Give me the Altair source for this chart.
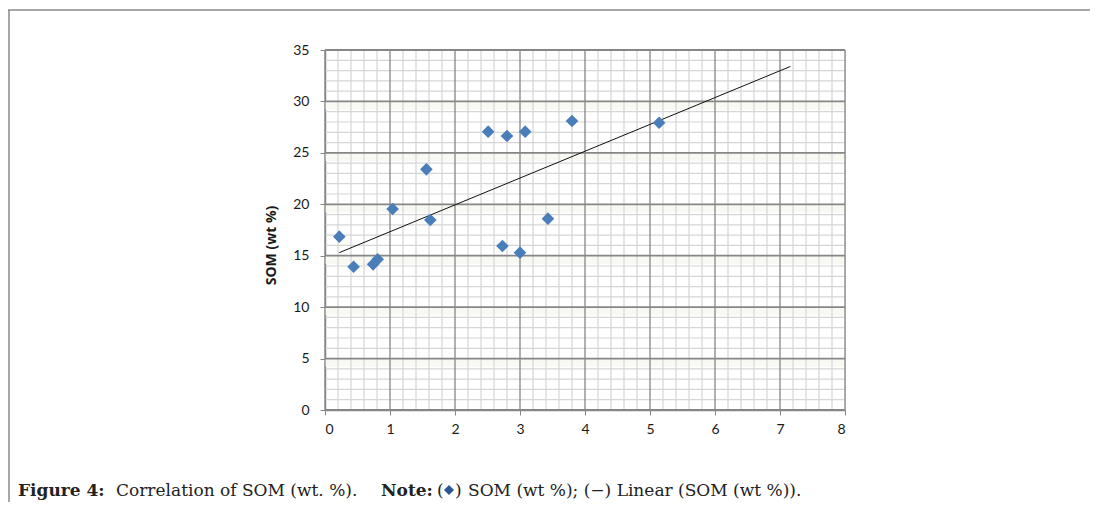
import altair as alt
import pandas as pd

# ---- data ----
clay = [0.22, 0.44, 0.74, 0.81, 1.04, 1.56, 1.62, 2.51, 2.73, 2.80, 3.00, 3.08, 3.43, 3.80, 5.14]
som = [16.85, 13.93, 14.16, 14.65, 19.54, 23.4, 18.47, 27.06, 15.94, 26.64, 15.3, 27.06, 18.6, 28.1, 27.93]
trend_x = [0.22, 7.16]
trend_y = [15.3, 33.4]
x_major = [0, 1, 2, 3, 4, 5, 6, 7, 8]
y_major = [0, 5, 10, 15, 20, 25, 30, 35]
x_minor = [round(i * 0.2, 1) for i in range(41) if i % 5]
y_minor = [i for i in range(36) if i % 5]
cap_fig = "Figure 4:"
cap_text1 = "Correlation of SOM (wt. %)."
cap_note = "Note:"
cap_open = "("
cap_close = ")"
cap_text2 = "SOM (wt %); (\u2212) Linear (SOM (wt %))."

pts = pd.DataFrame({"x": clay, "y": som})
trend = pd.DataFrame({"x": trend_x, "y": trend_y})
bands = pd.DataFrame({"v": [v for v in y_major if 0 < v < 35]})
bands["v2"] = bands["v"] - 0.8

MAJOR = "#868686"
MINOR = "#d6d6d6"
AXFONT = "Lato"

xscale = alt.Scale(domain=[0, 8], nice=False)
yscale = alt.Scale(domain=[0, 35], nice=False)

xaxis = alt.Axis(values=x_major, title=None, grid=False, domainColor=MAJOR, domainWidth=1.5,
                 tickColor=MAJOR, tickSize=5, labelPadding=7, labelFont=AXFONT,
                 labelFontSize=14, labelColor="#1a1a1a")
yaxis = alt.Axis(values=y_major, title="SOM (wt %)", grid=False, domainColor=MAJOR,
                 domainWidth=1.5, tickColor=MAJOR, tickSize=5, labelPadding=11,
                 labelFont=AXFONT, labelFontSize=14, labelColor="#1a1a1a",
                 titleFont="Open Sans", titleFontSize=14, titleFontWeight="bold",
                 titleColor="#1a1a1a", titleAngle=270, titleX=-47, titleY=195,
                 titleAlign="center", titleBaseline="bottom")


def X(f):
    return alt.X(f, scale=xscale, axis=xaxis, title=None)


def Y(f):
    return alt.Y(f, scale=yscale, axis=yaxis, title="SOM (wt %)")


band_layer = alt.Chart(bands).mark_rect(color="#f9f9f4").encode(
    y=Y("v:Q"), y2="v2:Q", x=alt.value(0), x2=alt.value(520))
minor_x = alt.Chart(pd.DataFrame({"v": x_minor})).mark_rule(color=MINOR, strokeWidth=1.2).encode(x=X("v:Q"))
minor_y = alt.Chart(pd.DataFrame({"v": y_minor})).mark_rule(color=MINOR, strokeWidth=1.2).encode(y=Y("v:Q"))
major_x = alt.Chart(pd.DataFrame({"v": x_major})).mark_rule(color=MAJOR, strokeWidth=1.3).encode(x=X("v:Q"))
major_y = alt.Chart(pd.DataFrame({"v": y_major})).mark_rule(color=MAJOR, strokeWidth=1.8).encode(y=Y("v:Q"))

line = alt.Chart(trend).mark_line(color="#111111", strokeWidth=1).encode(x=X("x:Q"), y=Y("y:Q"))

points = alt.Chart(pts).mark_point(shape="diamond", filled=True, size=160, color="#4a7ebb",
                                   opacity=1).encode(x=X("x:Q"), y=Y("y:Q"))

# frame
frame_top = alt.Chart(pd.DataFrame({"a": [0]})).mark_rule(color="#8a8a8a", strokeWidth=1.5).encode(
    x=alt.value(-317), x2=alt.value(790), y=alt.value(-40))
frame_left = alt.Chart(pd.DataFrame({"a": [0]})).mark_rule(color="#8a8a8a", strokeWidth=1.5).encode(
    x=alt.value(-316), y=alt.value(-40), y2=alt.value(470))


def cap(txt, xpos, bold=False):
    return alt.Chart(pd.DataFrame({"t": [txt]})).mark_text(
        align="left", baseline="alphabetic", font="DejaVu Serif", fontSize=17,
        fontWeight="bold" if bold else "normal", color="#222222").encode(
        x=alt.value(xpos), y=alt.value(446), text="t:N")


caps = [
    cap(cap_fig, -307, True),
    cap(cap_text1, -209),
    cap(cap_note, 56, True),
    cap(cap_open, 112),
    cap(cap_close, 130),
    cap(cap_text2, 143),
]
cap_diamond = alt.Chart(pd.DataFrame({"a": [0]})).mark_point(
    shape="diamond", filled=True, size=100, color="#2a5597", opacity=1).encode(
    x=alt.value(124), y=alt.value(440))

chart = alt.layer(band_layer, minor_x, minor_y, major_x, major_y, line, points, frame_top, frame_left,
                  cap_diamond, *caps).properties(
    width=520, height=360,
    autosize=alt.AutoSizeParams(type="none"),
    padding={"left": 317, "top": 42, "right": 245, "bottom": 92},
).configure_view(stroke=None).configure(background="white")

chart.save("out.html", embed_options={"renderer": "svg", "actions": False})
